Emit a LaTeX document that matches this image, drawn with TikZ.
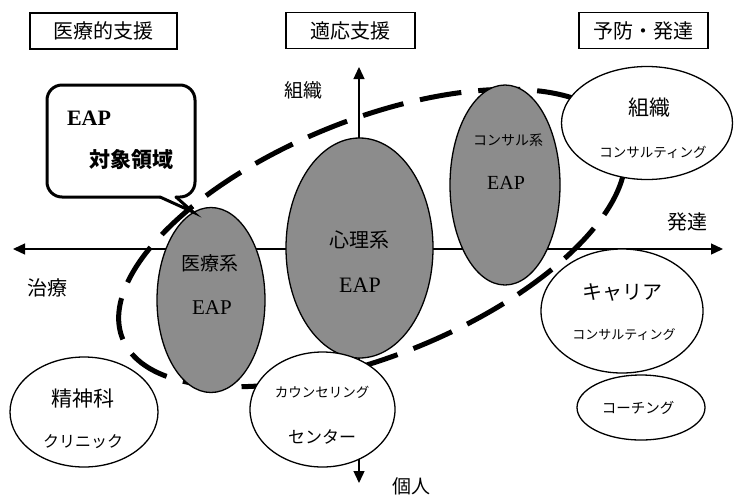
\documentclass[tikz,border=0pt]{standalone}
\usepackage{fontspec}
\setmainfont{Liberation Serif}
\newfontfamily\jp{Noto Sans CJK JP}
\usetikzlibrary{arrows.meta,shapes.geometric}
\definecolor{eapgray}{RGB}{140,140,140}
\begin{document}
\begin{tikzpicture}[x=1pt,y=-1pt,
  jtxt/.style={inner sep=0pt, font=\jp\fontsize{#1}{#1}\selectfont},
  etxt/.style={inner sep=0pt, font=\fontsize{#1}{#1}\selectfont},
  hbox/.style={draw, line width=1.2pt, minimum width=#1, minimum height=36pt, inner sep=0pt, font=\jp\fontsize{20}{20}\selectfont},
  graybl/.style={ellipse, draw, line width=1.3pt, fill=eapgray, inner sep=0pt},
  whitebl/.style={ellipse, draw, line width=1.3pt, fill=white, inner sep=0pt},
  biax/.style={line width=1.3pt, {Triangle[length=12pt,width=11pt]}-{Triangle[length=12pt,width=11pt]}},
  dashring/.style={line width=5pt, dash pattern=on 42pt off 17pt},
  callout/.style={line width=3pt, line cap=round}
]
\useasboundingbox (0,0) rectangle (735,499);

% header boxes
\node[hbox=147pt] (h1) at (103.5,31) {医療的支援};
\node[hbox=129pt] (h2) at (350.5,30.5) {適応支援};
\node[hbox=129pt] (h3) at (643.5,30.5) {予防・発達};

% axes
\coordinate (hl) at (13,249);
\coordinate (hr) at (723,249);
\coordinate (vt) at (359,67);
\coordinate (vb) at (359,483);
\draw[biax] (hl) -- (hr);
\draw[biax] (vb) -- (vt);

% axis labels
\node[jtxt=19] (lorg) at (303,90) {組織};
\node[jtxt=20] (ltreat) at (47,288) {治療};
\node[jtxt=20] (ldev) at (687,222) {発達};
\node[jtxt=19] (lind) at (411,486) {個人};

% dashed target area
\draw[dashring, rotate around={22:(372,238)}] (372,238) ellipse [x radius=269pt, y radius=118pt];

% EAP ellipses
\node[graybl, minimum width=108pt, minimum height=185pt] (med) at (211,300) {};
\node[graybl, minimum width=147pt, minimum height=220pt] (psy) at (359.5,248) {};
\node[graybl, minimum width=110pt, minimum height=200pt] (con) at (505,185) {};

\node[jtxt=19] (tmed) at (210,263) {医療系};
\node[etxt=21] (emed) at (212,308) {EAP};
\node[jtxt=20] (tpsy) at (359,240) {心理系};
\node[etxt=22] (epsy) at (360,285) {EAP};
\node[jtxt=14] (tcon) at (508,140) {コンサル系};
\node[etxt=20] (econ) at (506,183) {EAP};

% white ellipses
\node[whitebl, minimum width=171pt, minimum height=113pt] (org) at (647,123) {};
\node[whitebl, minimum width=162pt, minimum height=124pt] (car) at (622,311) {};
\node[whitebl, minimum width=128pt, minimum height=65pt] (coa) at (641,407.5) {};
\node[whitebl, minimum width=148pt, minimum height=110pt] (cli) at (84,412) {};
\node[whitebl, minimum width=145pt, minimum height=115pt] (cnt) at (322.5,409.5) {};

\node[jtxt=21] (torg1) at (649,108) {組織};
\node[jtxt=13.5] (torg2) at (653,152) {コンサルティング};
\node[jtxt=20] (tcar1) at (622,292) {キャリア};
\node[jtxt=13] (tcar2) at (624,335) {コンサルティング};
\node[jtxt=14.5] (tcoa) at (638,408) {コーチング};
\node[jtxt=21] (tcli1) at (83,398) {精神科};
\node[jtxt=16] (tcli2) at (83,442) {クリニック};
\node[jtxt=13.5] (tcnt1) at (322,392) {カウンセリング};
\node[jtxt=17] (tcnt2) at (322,437) {センター};

% callout
\draw[callout, rounded corners=15] (176,197) -- (195,197) -- (195,85) -- (47,85) -- (47,197) -- (160,197);
\draw[callout, line join=miter] (160,197) -- (193,212) -- (176,197);
\node[etxt=22, font=\bfseries\fontsize{22}{22}\selectfont] (ceap) at (89,118) {EAP};
\node[jtxt=21, font=\jp\bfseries\fontsize{21}{21}\selectfont] (carea) at (131,160) {対象領域};
\end{tikzpicture}
\end{document}
